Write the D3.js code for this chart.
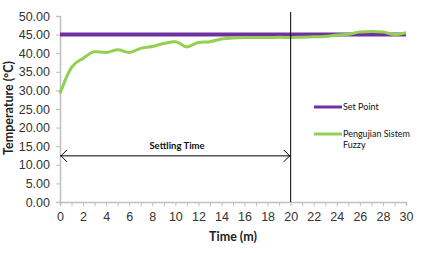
<!DOCTYPE html>
<html><head><meta charset="utf-8">
<script src="https://cdn.jsdelivr.net/npm/d3@7"></script>
<style>body{margin:0;background:#fff}svg{display:block;font-family:Lato,"Open Sans",sans-serif}</style>
</head><body><svg id="c" width="421" height="253"></svg>
<script>
const times = d3.range(0, 31);
const setPoint = [45,45,45,45,45,45,45,45,45,45,45,45,45,45,45,45,45,45,45,45,45,45,45,45,45,45,45,45,45,45,45];
const fuzzy = [29.2,36.2,38.6,40.4,40.2,40.9,40.2,41.3,41.8,42.6,43.1,41.7,42.9,43.1,43.8,44.1,44.2,44.2,44.2,44.3,44.2,44.3,44.4,44.5,44.9,45.1,45.7,45.8,45.7,45.0,45.5];
const yTicks = [0,5,10,15,20,25,30,35,40,45,50];
const xTicks = d3.range(0, 31, 2);
const settlingTime = 20;
const arrowY = 12.4;

const svg = d3.select("#c");
const x = d3.scaleLinear().domain([0,30]).range([60,406]);
const y = d3.scaleLinear().domain([0,50]).range([202,16]);

// axes
const yAxis = d3.axisLeft(y).tickValues(yTicks).tickFormat(d3.format(".2f")).tickSize(4).tickPadding(6);
const gy = svg.append("g").attr("transform","translate(60,0)").call(yAxis);
gy.select(".domain").attr("stroke","#bfbfbf").attr("stroke-width",1.5);
gy.selectAll(".tick line").attr("stroke","#bfbfbf");
gy.selectAll("text").attr("font-size",12.5).attr("fill","#333");

const gxMinor = svg.append("g").attr("transform","translate(0,202)")
  .call(d3.axisBottom(x).tickValues(times).tickFormat("").tickSize(4));
gxMinor.select(".domain").attr("stroke","#bfbfbf").attr("stroke-width",1.5);
gxMinor.selectAll(".tick line").attr("stroke","#bfbfbf");
const gx = svg.append("g").attr("transform","translate(0,202)")
  .call(d3.axisBottom(x).tickValues(xTicks).tickSize(0).tickPadding(10));
gx.select(".domain").remove();
gx.selectAll("text").attr("font-size",12.5).attr("fill","#333");

// titles
svg.append("text").attr("x",233).attr("y",241).attr("text-anchor","middle")
  .attr("font-size",12.5).attr("font-weight","bold").attr("fill","#222").text("Time (m)");
svg.append("text").attr("transform","translate(13,108) rotate(-90)").attr("text-anchor","middle")
  .attr("font-size",12.5).attr("font-weight","bold").attr("fill","#222").text("Temperature (°C)");

// lines
const line = d3.line().x((d,i)=>x(times[i])).y(d=>y(d)).curve(d3.curveMonotoneX);
svg.append("path").datum(setPoint).attr("d",line).attr("fill","none").attr("stroke","#7030a0").attr("stroke-width",4);
svg.append("path").datum(fuzzy).attr("d",line).attr("fill","none").attr("stroke","#92d050").attr("stroke-width",3);

// settling time marker
svg.append("line").attr("x1",x(settlingTime)).attr("x2",x(settlingTime)).attr("y1",12).attr("y2",202)
  .attr("stroke","#000").attr("stroke-width",1);
const ay = y(arrowY);
svg.append("line").attr("x1",x(0)).attr("x2",x(settlingTime)).attr("y1",ay).attr("y2",ay).attr("stroke","#000").attr("stroke-width",1);
svg.append("path").attr("d",`M${x(0)+7},${ay-6}L${x(0)+1},${ay}L${x(0)+7},${ay+6}`).attr("fill","none").attr("stroke","#000");
svg.append("path").attr("d",`M${x(settlingTime)-7},${ay-6}L${x(settlingTime)-1},${ay}L${x(settlingTime)-7},${ay+6}`).attr("fill","none").attr("stroke","#000");
svg.append("text").attr("x",177).attr("y",ay-7).attr("text-anchor","middle")
  .attr("font-size",9.5).attr("font-weight","bold").attr("fill","#111").text("Settling Time");

// legend
const leg = [{n:"Set Point",c:"#7030a0",y:107},{n:"Pengujian Sistem",n2:"Fuzzy",c:"#92d050",y:134}];
leg.forEach(l=>{
  svg.append("line").attr("x1",314).attr("x2",342).attr("y1",l.y).attr("y2",l.y).attr("stroke",l.c).attr("stroke-width",3);
  svg.append("text").attr("x",343).attr("y",l.y+3).attr("font-size",9).attr("fill","#111").text(l.n);
  if(l.n2) svg.append("text").attr("x",343).attr("y",l.y+14).attr("font-size",9).attr("fill","#111").text(l.n2);
});
</script></body></html>
